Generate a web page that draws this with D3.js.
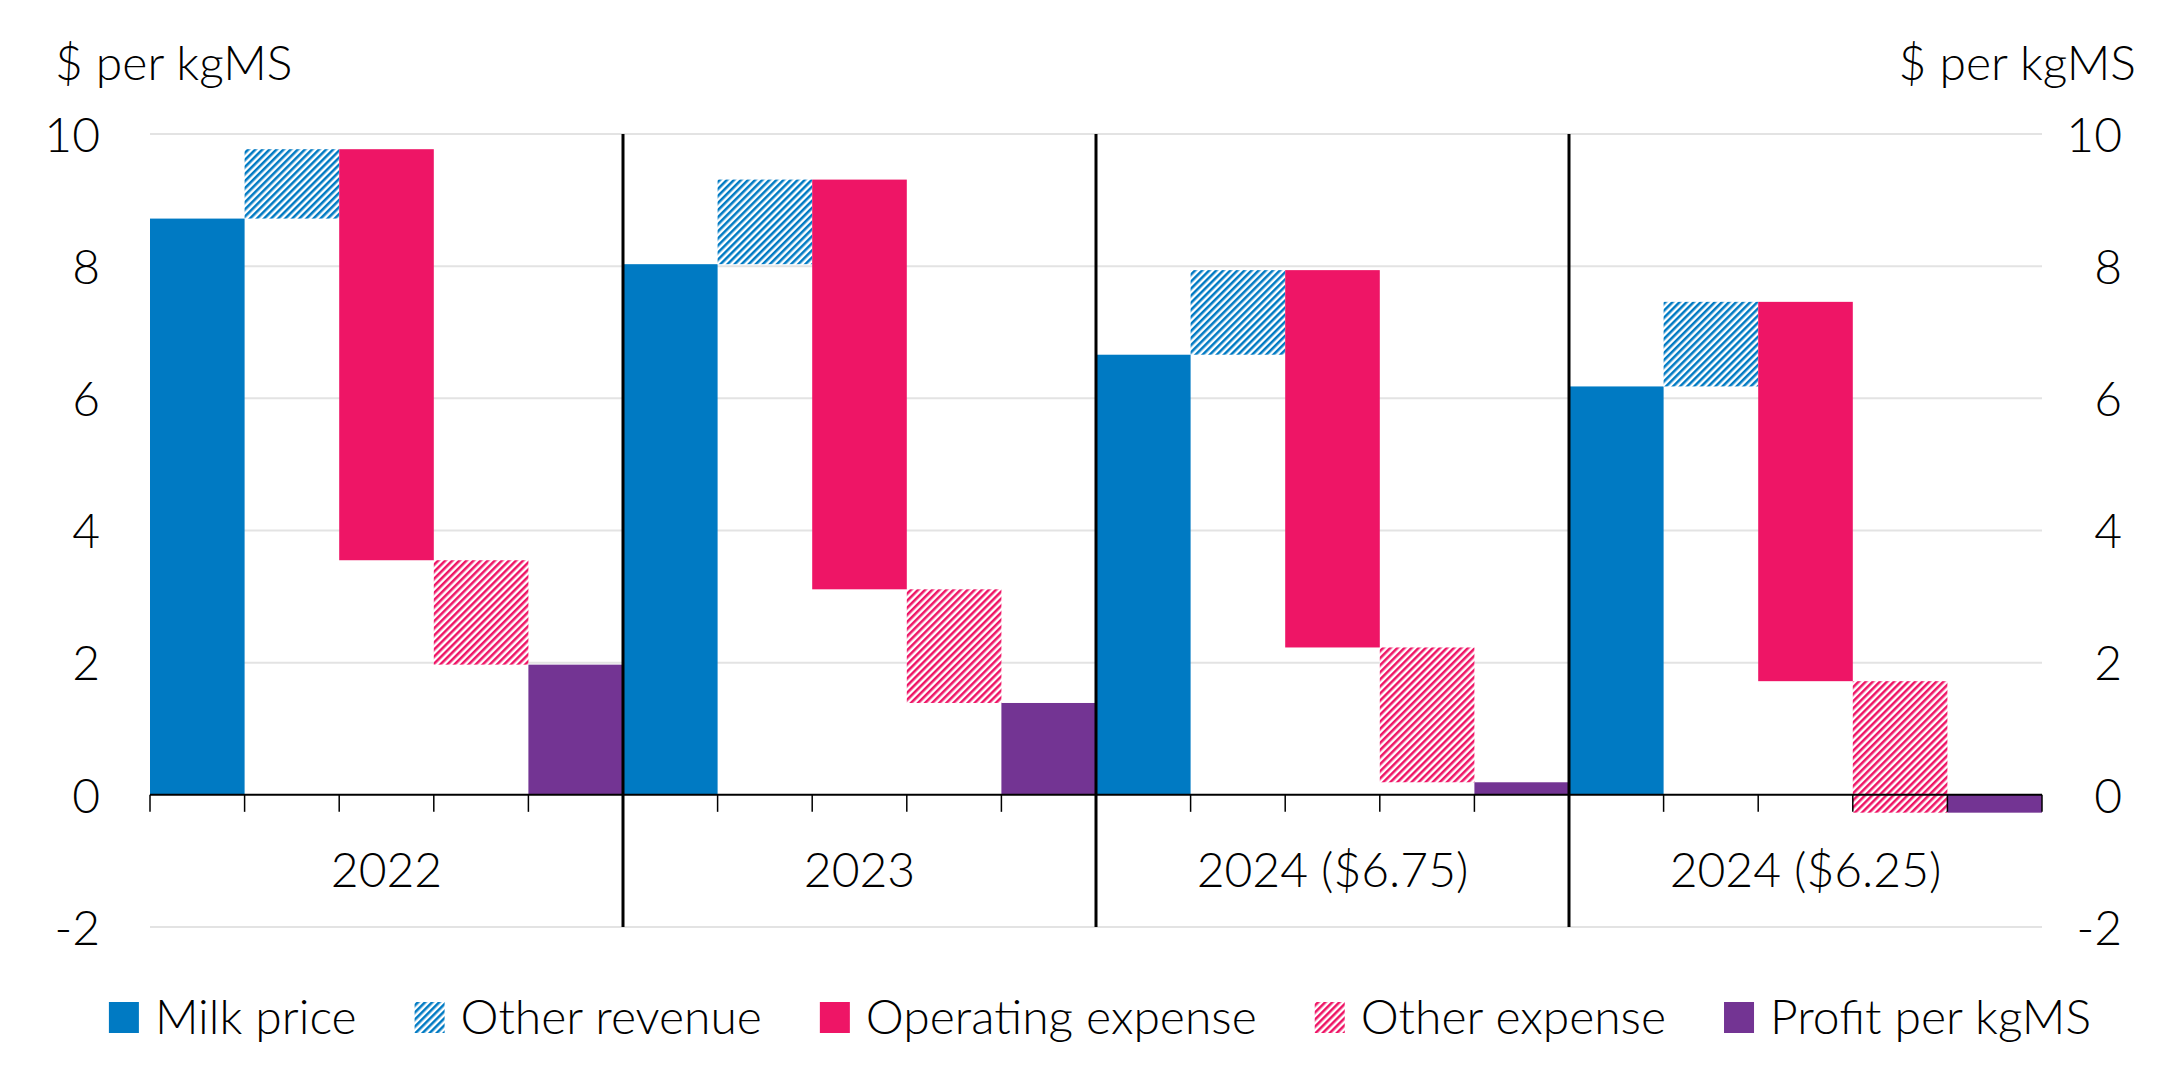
<!DOCTYPE html>
<html>
<head>
<meta charset="utf-8">
<script src="https://cdn.jsdelivr.net/npm/d3@7"></script>
<style>
  body { margin: 0; background: #fff; }
  svg text { font-family: Lato, "Open Sans", sans-serif; font-weight: 300; fill: #000; }
</style>
</head>
<body>
<div id="chart"></div>
<script>
// values, $ per kgMS
var categories = ["2022", "2023", "2024 ($6.75)", "2024 ($6.25)"];
var milkPrice = [8.72, 8.03, 6.66, 6.18];
var otherRevenue = [1.05, 1.28, 1.28, 1.28];
var operatingExpense = [6.22, 6.20, 5.71, 5.74];
var otherExpense = [1.58, 1.72, 2.04, 1.99];
var profit = [1.97, 1.39, 0.19, -0.27];
var yTicks = [-2, 0, 2, 4, 6, 8, 10];
var seriesNames = ["Milk price", "Other revenue", "Operating expense", "Other expense", "Profit per kgMS"];

var width = 2175, height = 1077;
var plotLeft = 150, plotRight = 2042, plotTop = 134, plotBottom = 927;
var fontSize = 48;

var blue = "#007ac3", pink = "#ee1566", purple = "#733493";

var svg = d3.select("#chart").append("svg")
    .attr("width", width)
    .attr("height", height);

// hatch patterns
var defs = svg.append("defs");
function hatch(id, color) {
    var p = defs.append("pattern")
        .attr("id", id)
        .attr("patternUnits", "userSpaceOnUse")
        .attr("width", 5).attr("height", 5)
        .attr("patternTransform", "rotate(45)");
    p.append("rect").attr("width", 5).attr("height", 5).attr("fill", "#fff");
    p.append("line").attr("x1", 1.25).attr("y1", 0).attr("x2", 1.25).attr("y2", 5)
        .attr("stroke", color).attr("stroke-width", 2.6);
}
hatch("hatchBlue", blue);
hatch("hatchPink", pink);

var fills = [blue, "url(#hatchBlue)", pink, "url(#hatchPink)", purple];

var x0 = d3.scaleBand().domain(categories).range([plotLeft, plotRight]).padding(0);
var x1 = d3.scaleBand().domain(d3.range(5)).range([0, x0.bandwidth()]).padding(0);
var y = d3.scaleLinear().domain([-2, 10]).range([plotBottom, plotTop]);

// gridlines
svg.append("g").selectAll("line")
    .data(yTicks.filter(function (d) { return d !== 0; }))
    .enter().append("line")
    .attr("x1", plotLeft).attr("x2", plotRight)
    .attr("y1", function (d) { return y(d); })
    .attr("y2", function (d) { return y(d); })
    .attr("stroke", "#e3e3e3")
    .attr("stroke-width", 2);

// waterfall segments
var segments = [];
categories.forEach(function (c, i) {
    var top1 = milkPrice[i] + otherRevenue[i];
    var top3 = top1 - operatingExpense[i];
    var top4 = top3 - otherExpense[i];
    segments.push({ cat: c, k: 0, a: 0, b: milkPrice[i] });
    segments.push({ cat: c, k: 1, a: milkPrice[i], b: top1 });
    segments.push({ cat: c, k: 2, a: top3, b: top1 });
    segments.push({ cat: c, k: 3, a: top4, b: top3 });
    segments.push({ cat: c, k: 4, a: 0, b: profit[i] });
});

svg.append("g").selectAll("rect")
    .data(segments)
    .enter().append("rect")
    .attr("x", function (d) { return x0(d.cat) + x1(d.k); })
    .attr("width", x1.bandwidth())
    .attr("y", function (d) { return y(Math.max(d.a, d.b)); })
    .attr("height", function (d) { return Math.abs(y(d.a) - y(d.b)); })
    .attr("fill", function (d) { return fills[d.k]; });

// zero line and ticks at bar edges
svg.append("line")
    .attr("x1", plotLeft).attr("x2", plotRight)
    .attr("y1", y(0)).attr("y2", y(0))
    .attr("stroke", "#000").attr("stroke-width", 2);

var edges = [];
categories.forEach(function (c) {
    for (var k = 0; k < 5; k++) edges.push(x0(c) + x1(k));
});
edges.push(plotRight);
svg.append("g").selectAll("line")
    .data(edges)
    .enter().append("line")
    .attr("x1", function (d) { return d; })
    .attr("x2", function (d) { return d; })
    .attr("y1", y(0)).attr("y2", y(0) + 17)
    .attr("stroke", "#000").attr("stroke-width", 1.5);

// group dividers
svg.append("g").selectAll("line")
    .data(categories.slice(1))
    .enter().append("line")
    .attr("x1", function (d) { return x0(d); })
    .attr("x2", function (d) { return x0(d); })
    .attr("y1", plotTop).attr("y2", plotBottom)
    .attr("stroke", "#000").attr("stroke-width", 3);

// category labels
var xAxis = svg.append("g")
    .attr("transform", "translate(0," + y(0) + ")")
    .call(d3.axisBottom(x0).tickSize(0).tickPadding(0));
xAxis.select(".domain").remove();
xAxis.selectAll("text")
    .attr("y", 92)
    .attr("dy", null)
    .style("font-size", fontSize + "px")
    .style("font-family", "Lato, 'Open Sans', sans-serif");

// y axes, labels on both sides
function yAxis(xPos) {
    var g = svg.append("g")
        .attr("transform", "translate(" + xPos + ",0)")
        .call(d3.axisLeft(y).tickValues(yTicks).tickSize(0).tickPadding(0)
            .tickFormat(function (d) { return String(d); }));
    g.select(".domain").remove();
    g.selectAll("text")
        .attr("x", 0)
        .attr("text-anchor", "end")
        .attr("dy", "0.36em")
        .style("font-size", fontSize + "px")
        .style("font-family", "Lato, 'Open Sans', sans-serif");
}
yAxis(100);
yAxis(2122);

// axis titles
svg.append("text")
    .attr("x", 55).attr("y", 80)
    .style("font-size", fontSize + "px")
    .text("$ per kgMS");
svg.append("text")
    .attr("x", 2136).attr("y", 80)
    .attr("text-anchor", "end")
    .style("font-size", fontSize + "px")
    .text("$ per kgMS");

// legend
var legend = svg.append("g");
var lx = 0;
seriesNames.forEach(function (name, i) {
    var item = legend.append("g").attr("transform", "translate(" + lx + ",0)");
    item.append("rect")
        .attr("x", 0).attr("y", -16)
        .attr("width", 30).attr("height", 31)
        .attr("fill", fills[i]);
    var t = item.append("text")
        .attr("x", 46).attr("y", 16)
        .style("font-size", fontSize + "px")
        .text(name);
    lx += 46 + t.node().getComputedTextLength() + 58;
});
var legendWidth = lx - 58;
legend.attr("transform", "translate(" + (1100 - legendWidth / 2) + ",1018)");
</script>
</body>
</html>
